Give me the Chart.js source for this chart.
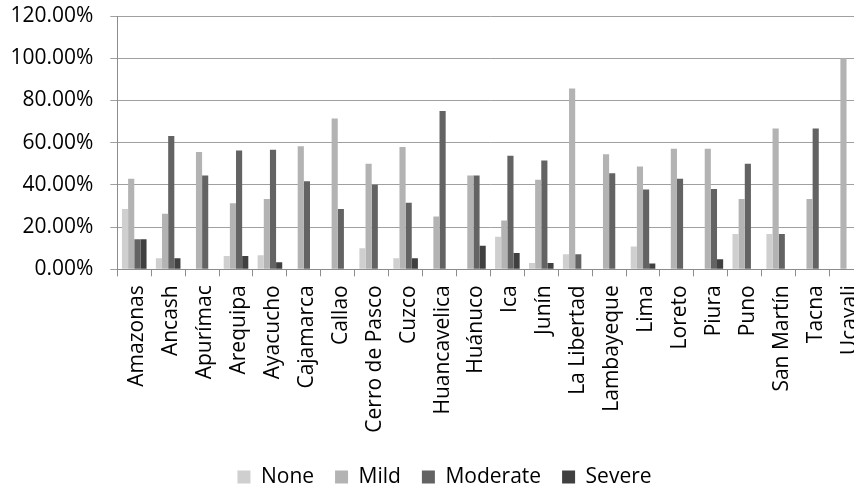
<!DOCTYPE html>
<html>
<head>
<meta charset="utf-8">
<script src="https://cdn.jsdelivr.net/npm/chart.js@4/dist/chart.umd.min.js"></script>
<style>
  html, body { margin: 0; padding: 0; background: #ffffff; overflow: hidden; }
  #wrap { width: 854px; height: 485px; overflow: hidden; }
  canvas { display: block; }
</style>
</head>
<body>
<div id="wrap"><canvas id="chart" width="874" height="485"></canvas></div>
<script>
// Regions of Peru and the share (%) of cases in each severity group
const regions = [
  'Amazonas', 'Ancash', 'Apurímac', 'Arequipa', 'Ayacucho', 'Cajamarca', 'Callao',
  'Cerro de Pasco', 'Cuzco', 'Huancavelica', 'Huánuco', 'Ica', 'Junín', 'La Libertad',
  'Lambayeque', 'Lima', 'Loreto', 'Piura', 'Puno', 'San Martín', 'Tacna', 'Ucayali'
];
const noneShare = [28.57, 5.26, 0, 6.25, 6.67, 0, 0, 10.00, 5.26, 0, 0, 15.38, 3.03, 7.14, 0, 10.81, 0, 0, 16.67, 16.67, 0, 0];
const mildShare = [42.86, 26.32, 55.56, 31.25, 33.33, 58.33, 71.43, 50.00, 57.89, 25.00, 44.44, 23.08, 42.42, 85.71, 54.55, 48.65, 57.14, 57.14, 33.33, 66.67, 33.33, 100.00];
const moderateShare = [14.29, 63.16, 44.44, 56.25, 56.67, 41.67, 28.57, 40.00, 31.58, 75.00, 44.44, 53.85, 51.52, 7.14, 45.45, 37.84, 42.86, 38.10, 50.00, 16.67, 66.67, 0];
const severeShare = [14.29, 5.26, 0, 6.25, 3.33, 0, 0, 0, 5.26, 0, 11.11, 7.69, 3.03, 0, 0, 2.70, 0, 4.76, 0, 0, 0, 0];
const yTickValues = [0, 20, 40, 60, 80, 100, 120];

const FONT = { family: 'Open Sans', size: 21 };
const TEXT = '#000000';
const AXIS = '#8c8c8c';

// Nudges the bottom legend sideways so it sits under the visible part of the chart
const legendShift = {
  id: 'legendShift',
  afterLayout(chart, args, opts) {
    const lg = chart.legend;
    if (lg) { lg.left += opts.dx; lg.right += opts.dx; }
  }
};

new Chart(document.getElementById('chart'), {
  type: 'bar',
  data: {
    labels: regions,
    datasets: [
      { label: 'None', data: noneShare, backgroundColor: '#cfcfcf' },
      { label: 'Mild', data: mildShare, backgroundColor: '#b3b3b3' },
      { label: 'Moderate', data: moderateShare, backgroundColor: '#636363' },
      { label: 'Severe', data: severeShare, backgroundColor: '#404040' }
    ]
  },
  plugins: [legendShift],
  options: {
    responsive: false,
    animation: false,
    devicePixelRatio: 1,
    layout: { padding: { left: 0, right: 10.5, top: 16, bottom: -12.5 } },
    datasets: { bar: { barPercentage: 1, categoryPercentage: 0.725, borderWidth: 0 } },
    plugins: {
      tooltip: { enabled: false },
      legendShift: { dx: 12.75 },
      legend: {
        position: 'bottom',
        labels: { boxWidth: 13, boxHeight: 13, padding: 21, color: TEXT, font: FONT }
      }
    },
    scales: {
      x: {
        ticks: {
          autoSkip: false, minRotation: 90, maxRotation: 90,
          padding: 9, labelOffset: 3, color: TEXT, font: FONT
        },
        grid: { drawOnChartArea: false, tickLength: 7, color: AXIS, offset: true },
        border: { color: AXIS },
        afterFit: s => { s.height = 176.2; s.paddingLeft = 0; s.paddingRight = 0; }
      },
      y: {
        min: 0, max: 120,
        afterBuildTicks: s => { s.ticks = yTickValues.map(v => ({ value: v })); },
        ticks: { padding: 17, color: TEXT, font: FONT, callback: v => v.toFixed(2) + '%' },
        grid: { color: '#a0a0a0', tickLength: 7 },
        border: { color: AXIS },
        afterFit: s => { s.width = 117.3; s.paddingTop = 0; s.paddingBottom = 0; }
      }
    }
  }
});
</script>
</body>
</html>
